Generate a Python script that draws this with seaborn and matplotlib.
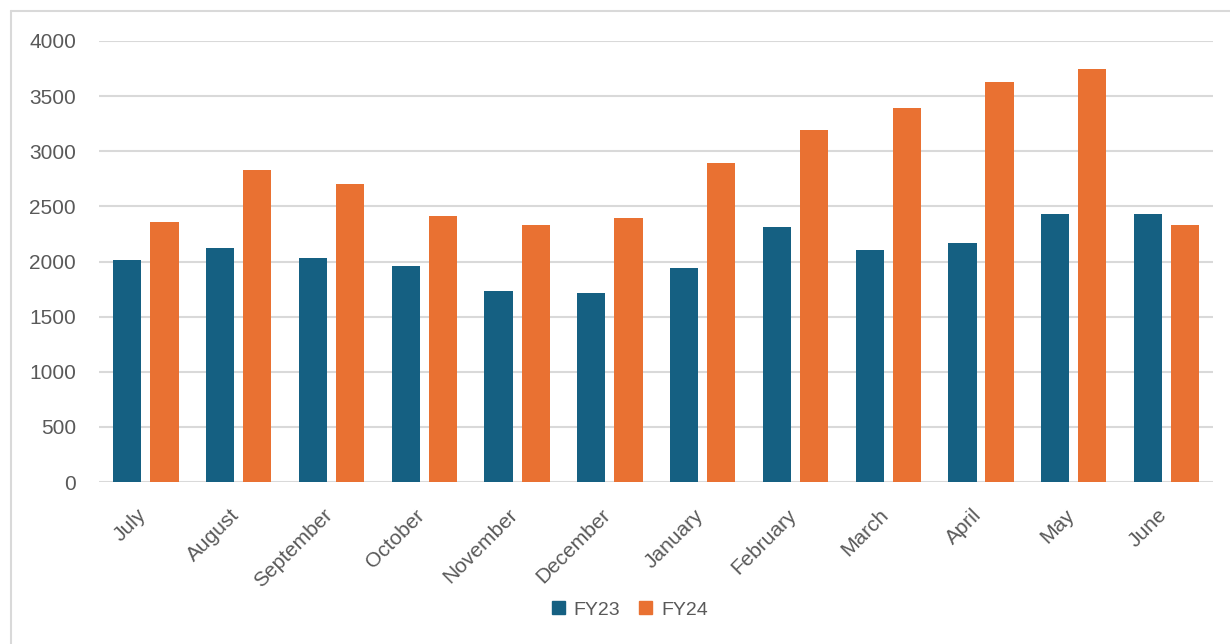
import pandas as pd
import seaborn as sns
import matplotlib.pyplot as plt
import matplotlib.transforms as mtransforms
from matplotlib.lines import Line2D

months = ["July", "August", "September", "October", "November", "December",
          "January", "February", "March", "April", "May", "June"]
fy23 = [2010, 2120, 2035, 1956, 1730, 1711, 1938, 2313, 2102, 2164, 2434, 2434]
fy24 = [2361, 2830, 2703, 2410, 2331, 2392, 2893, 3193, 3390, 3632, 3749, 2329]
yticks = [0, 500, 1000, 1500, 2000, 2500, 3000, 3500, 4000]

df = pd.DataFrame({
    "Month": months * 2,
    "Value": fy23 + fy24,
    "Year": ["FY23"] * len(months) + ["FY24"] * len(months),
})

sns.set_theme(style="white")
plt.rcParams["font.family"] = ["Liberation Sans", "DejaVu Sans"]
text_col = "#595959"
grid_col = "#D9D9D9"

fig = plt.figure(figsize=(12.3, 6.44), dpi=100)
ax = fig.add_axes([99.5 / 1230, 1 - 482 / 644, (1213 - 99.5) / 1230, (482 - 41) / 644])

sns.barplot(data=df, x="Month", y="Value", hue="Year", order=months,
            palette={"FY23": "#156082", "FY24": "#E97132"},
            width=0.8, gap=0.24, linewidth=0, saturation=1, ax=ax, legend=False)

ax.set_xlim(-0.5, len(months) - 0.5)
ax.set_ylim(0, 4000)
ax.set_yticks(yticks)
ax.yaxis.grid(True, color=grid_col, linewidth=1.5)
ax.set_axisbelow(True)
for s in ax.spines.values():
    s.set_visible(False)
ax.set_xlabel("")
ax.set_ylabel("")
ax.tick_params(axis="y", length=0, pad=17, labelsize=15, labelcolor=text_col)
ax.tick_params(axis="x", length=0, pad=17, labelsize=15, labelcolor=text_col)
shift = mtransforms.ScaledTranslation(-0.09, 0, fig.dpi_scale_trans)
for lab in ax.get_xticklabels():
    lab.set_rotation(45)
    lab.set_ha("right")
    lab.set_rotation_mode("anchor")
    lab.set_transform(lab.get_transform() + shift)

# outer chart border (top and left visible)
fig.add_artist(Line2D([11 / 1230, 1], [1 - 11 / 644] * 2, color=grid_col, lw=1.5))
fig.add_artist(Line2D([11 / 1230] * 2, [0, 1 - 11 / 644], color=grid_col, lw=1.5))

handles = [plt.Rectangle((0, 0), 1, 1, color="#156082"),
           plt.Rectangle((0, 0), 1, 1, color="#E97132")]
fig.legend(handles, ["FY23", "FY24"], loc="center", bbox_to_anchor=(0.512, 0.053),
           ncol=2, frameon=False, fontsize=14, labelcolor=text_col,
           handlelength=0.67, handleheight=0.67, handletextpad=0.45, columnspacing=1.0)

fig.savefig("out.png", dpi=100, facecolor="white")
